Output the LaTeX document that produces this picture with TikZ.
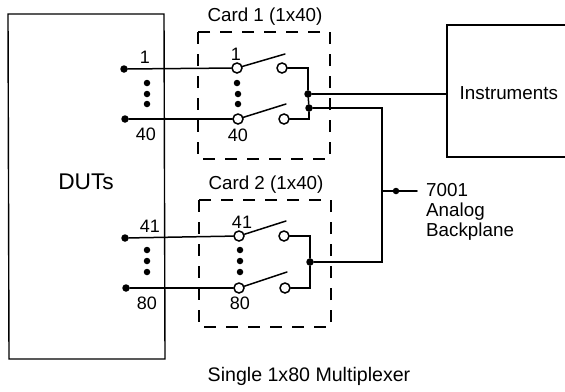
\documentclass[tikz,border=0pt]{standalone}
\usepackage{fontspec}
\setmainfont{Liberation Sans}
\tikzset{x=1pt,y=-1pt,
 wire/.style={line width=1.5pt,line cap=round},
 boxline/.style={line width=1.4pt},
 card/.style={line width=1.2pt,dash pattern=on 12pt off 10pt},
 dot/.style={circle,fill=black,inner sep=0pt,minimum size=7.5pt},
 sdot/.style={circle,fill=black,inner sep=0pt,minimum size=6.5pt},
 contact/.style={circle,draw=black,fill=white,line width=1.5pt,inner sep=0pt,minimum size=10pt},
 lab/.style={font=\fontsize{18pt}{20.3pt}\selectfont,inner sep=0pt,text=black},
 labb/.style={lab,font=\fontsize{18.8pt}{20.3pt}\selectfont}
}
\begin{document}
\begin{tikzpicture}
\useasboundingbox (0,0) rectangle (565,391);
\fill[white] (0,0) rectangle (565,391);
\draw[boxline] (8,14) -- (164,14) -- (165,359) -- (9,359) -- cycle;
\node[lab,font=\fontsize{22.7pt}{24pt}\selectfont] (duts) at (86,182) {DUTs};
\draw[boxline] (565,25) -- (447,25) -- (447,157) -- (565,157);
\node[labb,anchor=west] (inst) at (459.5,93) {Instruments};
\draw[card] (198,32) rectangle (330,159);
\draw[card] (199,200) rectangle (331,327);
\node[labb] (c1) at (265,17) {Card 1 (1x40)};
\node[labb] (c2) at (266,185) {Card 2 (1x40)};
% card 1
\node[dot] (a1) at (124,69) {}; \node[dot] (a2) at (125,119) {};
\node[contact] (s1) at (237,68) {}; \node[contact] (s2) at (238,119) {};
\node[contact] (t1) at (282,68) {}; \node[contact] (t2) at (284,119) {};
\node[dot] (j1) at (308,94) {}; \node[dot] (j2) at (309,108) {};
\coordinate (b1) at (285,54); \coordinate (b2) at (286,104);
\draw[wire] (a1) -- (s1); \draw[wire] (a2) -- (s2);
\draw[wire] (s1) -- (b1); \draw[wire] (s2) -- (b2);
\draw[wire] (t1) -| (j1); \draw[wire] (t2) -| (j2); \draw[wire] (j1) -- (j2);
% card 2
\node[dot] (a3) at (125,238) {}; \node[dot] (a4) at (126,288) {};
\node[contact] (s3) at (239,236) {}; \node[contact] (s4) at (239,288) {};
\node[contact] (t3) at (284,236) {}; \node[contact] (t4) at (285,288) {};
\node[dot] (j3) at (310,262) {};
\coordinate (b3) at (286,221); \coordinate (b4) at (287,272);
\draw[wire] (a3) -- (s3); \draw[wire] (a4) -- (s4);
\draw[wire] (s3) -- (b3); \draw[wire] (s4) -- (b4);
\draw[wire] (t3) -| (j3); \draw[wire] (t4) -| (j3);
% outgoing
\coordinate (ie) at (447,94);
\draw[wire] (j1) -- (ie);
\coordinate (c) at (382,108); \coordinate (d) at (382,262);
\draw[wire] (j2) -- (c) -- (d) -- (j3);
\coordinate (m) at (382,191); \coordinate (n) at (417,191);
\draw[wire] (n) -- (m);
\node[sdot] at (396,191) {};
\node[labb,anchor=north west,align=left] (bp) at (426,183) {7001\\Analog\\Backplane};
% dots
\foreach \x/\y in {147/83,147/94,147/104,237/83,238/94,238/104,147/250,147/261,147/272,240/250,240/261,240/272}
  \node[sdot] at (\x,\y) {};
% numbers
\node[lab] at (145,57) {1}; \node[lab] at (146,134) {40};
\node[lab] at (236,54) {1}; \node[lab] at (238,135) {40};
\node[lab] at (150,226) {41}; \node[lab] at (147,303) {80};
\node[lab] at (242,222) {41}; \node[lab] at (240,303) {80};
\node[lab,font=\fontsize{19.6pt}{22pt}\selectfont] (title) at (309,376) {Single 1x80 Multiplexer};
\end{tikzpicture}
\end{document}
